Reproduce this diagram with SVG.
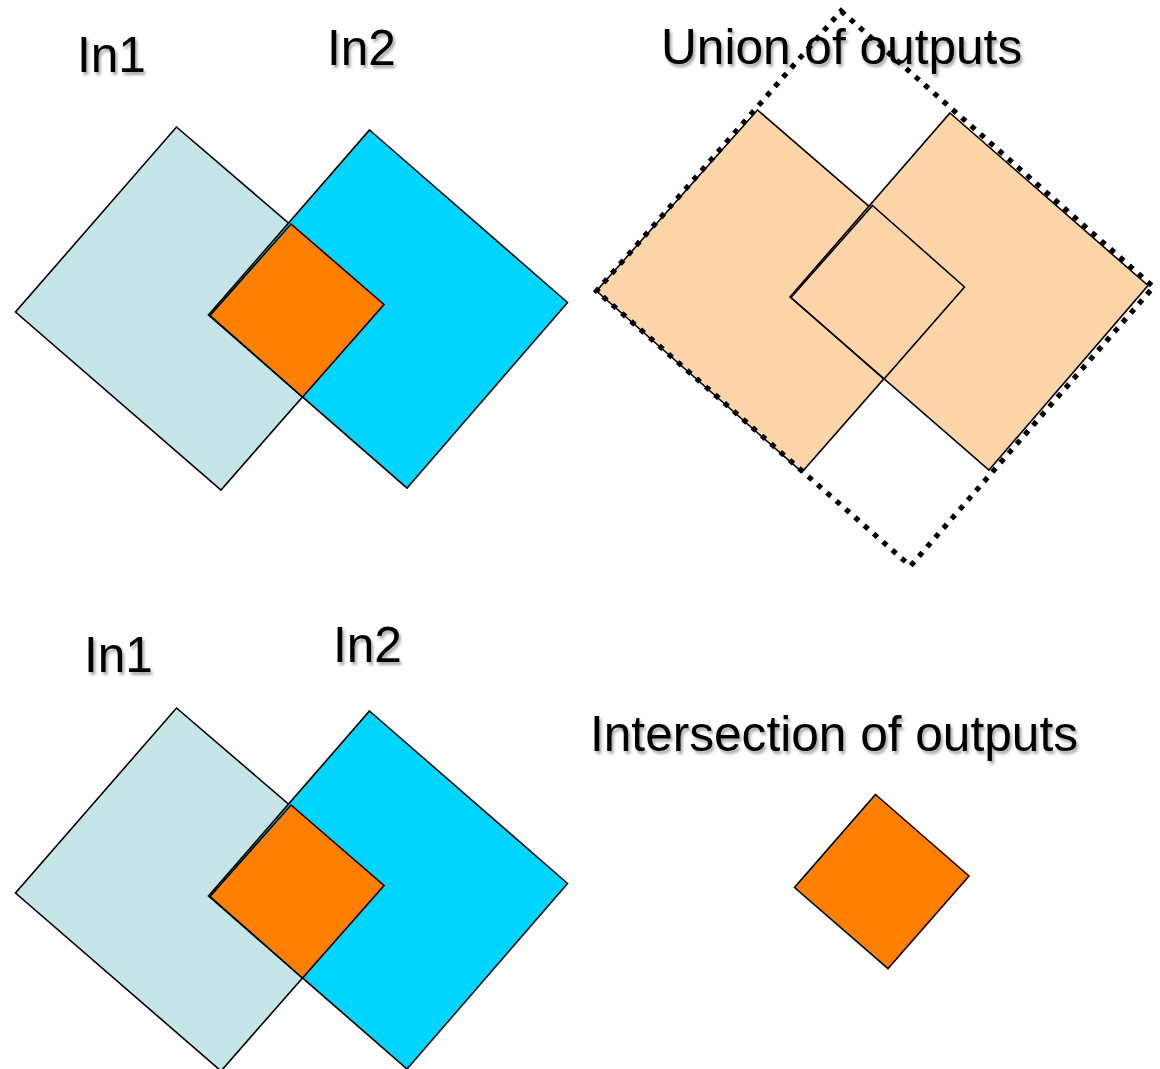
<svg xmlns="http://www.w3.org/2000/svg" width="1160" height="1069" viewBox="0 0 1160 1069">
  <defs>
    <filter id="textShadow" x="-10%" y="-20%" width="130%" height="160%">
      <feDropShadow dx="2" dy="3" stdDeviation="1.6" flood-color="#000" flood-opacity="0.35"/>
    </filter>
  </defs>
  <style>
    .label { font-family: "Liberation Sans", Arial, sans-serif; font-size: 49.6px; fill: #000; filter: url(#textShadow); }
    .shape { stroke: #000; stroke-width: 1.6; stroke-linejoin: miter; }
    .in1 { fill: #C5E5E8; }
    .in2 { fill: #00D5FF; }
    .overlap { fill: #FF7F00; }
    .out { fill: #FDD5A9; }
    .outline { fill: none; }
    .bound { fill: none; stroke: #000; stroke-width: 5.2; stroke-dasharray: 5.2 7.2; }
  </style>

  <!-- upper left: two inputs and their overlap -->
  <g id="union-inputs">
    <g id="union-in1">
      <polygon class="shape in1" points="176.5,127 383.5,304.5 221,490 15.5,312"/>
      <text class="label" x="77" y="72">In1</text>
    </g>
    <g id="union-in2">
      <polygon class="shape in2" points="369.5,130 567.5,302.5 407,488 208.5,315"/>
      <text class="label" x="327" y="65">In2</text>
    </g>
    <g id="union-overlap">
      <polygon class="shape overlap" points="291,224 384,304.5 302.5,397 210,315.5"/>
    </g>
  </g>

  <!-- upper right: union of the two outputs -->
  <g id="union-result">
    <text class="label" x="661" y="64">Union of outputs</text>
    <g id="union-out1">
      <polygon class="shape out" points="757.5,110 963.5,288 802,472 596.5,291"/>
    </g>
    <g id="union-out2">
      <polygon class="shape out" points="950,113 1148,285.5 989,470 790,297"/>
    </g>
    <g id="union-common">
      <polygon class="shape outline" points="872.5,205.5 964.5,287 884,379 791,297.5"/>
    </g>
    <g id="union-bound">
      <polygon class="bound" points="841,11 1153.5,287 910.5,566 596.5,291"/>
    </g>
  </g>

  <!-- lower left: the same two inputs -->
  <g id="intersect-inputs">
    <g id="intersect-in1">
      <polygon class="shape in1" points="176.5,708 383.5,885.5 221,1071 15.5,893"/>
      <text class="label" x="84" y="672">In1</text>
    </g>
    <g id="intersect-in2">
      <polygon class="shape in2" points="369.5,711 567.5,883.5 407,1069 208.5,896"/>
      <text class="label" x="333" y="662">In2</text>
    </g>
    <g id="intersect-overlap">
      <polygon class="shape overlap" points="291,805 384,885.5 302.5,978 210,896.5"/>
    </g>
  </g>

  <!-- lower right: intersection of the outputs -->
  <g id="intersect-result">
    <text class="label" x="590" y="751">Intersection of outputs</text>
    <polygon class="shape overlap" points="875.5,794.5 969,876 888,968.5 794.5,887.5"/>
  </g>

  <g id="connectors"/>
</svg>
